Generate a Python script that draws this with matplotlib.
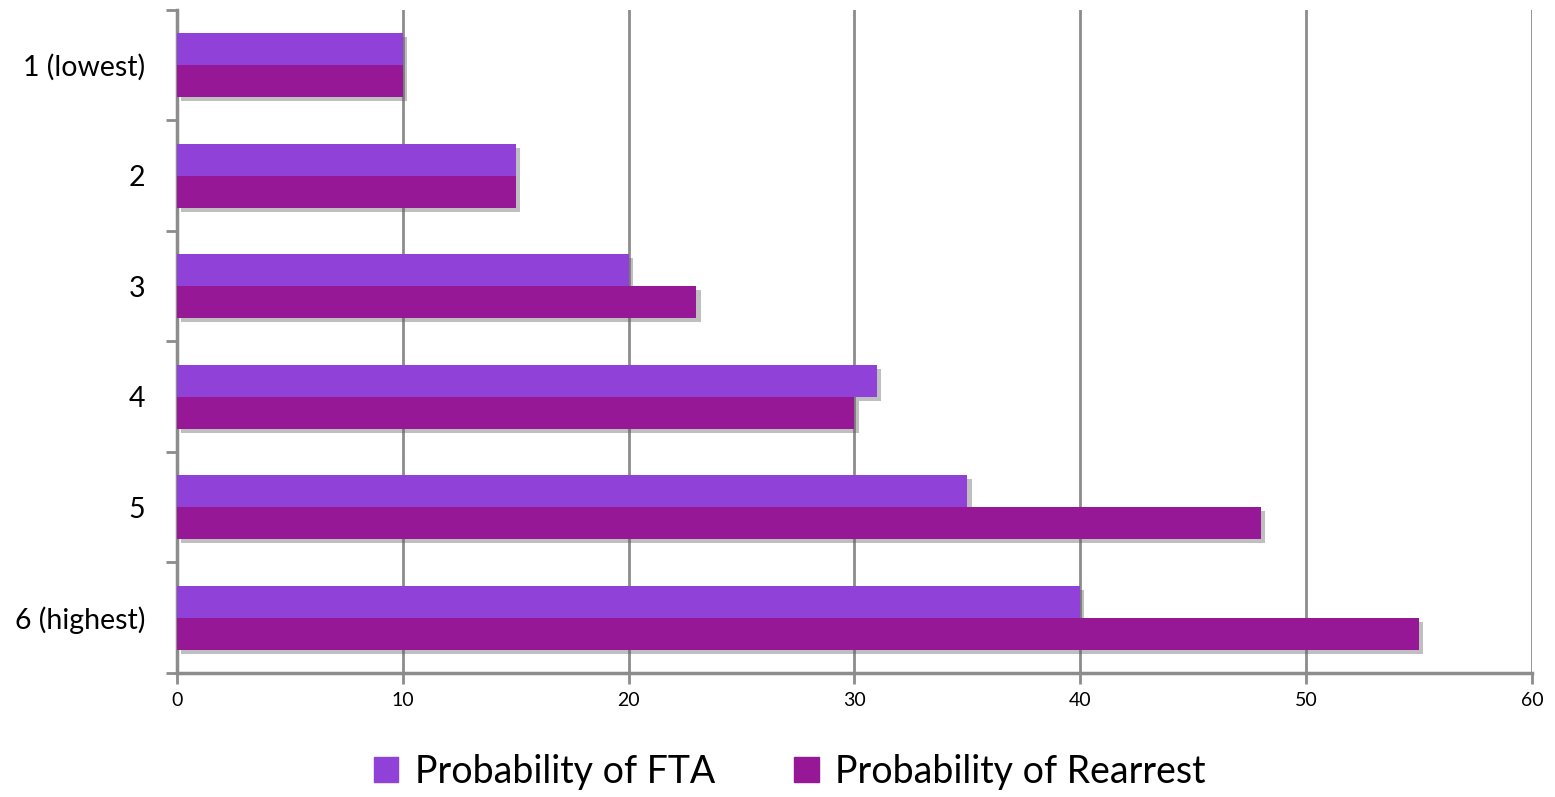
#!/usr/bin/env python3

import numpy as np
import matplotlib.pyplot as plt
import matplotlib.patheffects as pe
from matplotlib.patches import Patch

categories = ["1 (lowest)", "2", "3", "4", "5", "6 (highest)"]
fta = [10, 15, 20, 31, 35, 40]
rearrest = [10, 15, 23, 30, 48, 55]

fta_color = "#9041d8"
rearrest_color = "#961896"
axis_gray = "#8c8c8c"

plt.rcParams['font.family'] = ['Lato', 'DejaVu Sans']

fig = plt.figure(figsize=(15.55, 7.97), dpi=100)
ax = fig.add_axes([0.1138, 0.1556, 0.8714, 0.8319])

y = np.arange(len(categories))
h = 0.29

# soft drop shadow on every bar
shadow = [pe.SimplePatchShadow(offset=(3, -3), shadow_rgbFace="#606060", alpha=0.4),
          pe.Normal()]

b1 = ax.barh(y - h / 2, fta, height=h, color=fta_color, zorder=3)
b2 = ax.barh(y + h / 2, rearrest, height=h, color=rearrest_color, zorder=3)
for bar in list(b1) + list(b2):
    bar.set_path_effects(shadow)

ax.set_xlim(0, 60)
ax.set_ylim(len(categories) - 0.5, -0.5)
ax.set_xticks(np.arange(0, 61, 10))
ax.set_yticks(y)
ax.set_yticklabels(categories)
ax.set_yticks(np.arange(-0.5, len(categories)), minor=True)

ax.grid(axis="x", color=axis_gray, linewidth=2, zorder=0)
ax.set_axisbelow(True)

for side in ["top", "right"]:
    ax.spines[side].set_visible(False)
for side in ["left", "bottom"]:
    ax.spines[side].set_color(axis_gray)
    ax.spines[side].set_linewidth(2.5)

ax.tick_params(axis="x", length=8, width=2, color=axis_gray, labelsize=14, pad=6)
ax.tick_params(axis="y", which="major", length=0, labelsize=20.5, pad=23)
ax.tick_params(axis="y", which="minor", length=8, width=2, color=axis_gray)

handles = [Patch(color=fta_color, label="Probability of FTA"),
           Patch(color=rearrest_color, label="Probability of Rearrest")]
fig.legend(handles=handles, loc="lower center", bbox_to_anchor=(0.508, -0.033),
           ncol=2, frameon=False, fontsize=27, handlelength=0.65,
           handleheight=0.65, handletextpad=0.45, columnspacing=2.1)

fig.savefig("out.png", dpi=100)
